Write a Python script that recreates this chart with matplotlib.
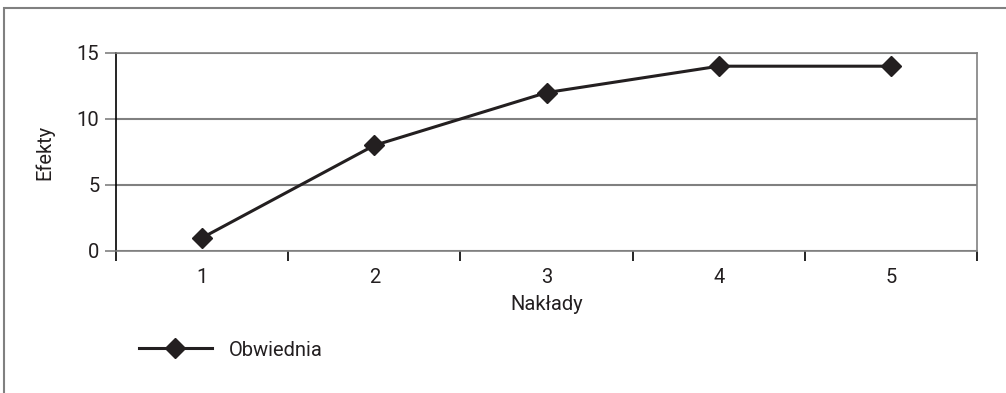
import matplotlib
matplotlib.use("Agg")
import matplotlib.pyplot as plt
from matplotlib.patches import Rectangle
import numpy as np

# Data
categories = ["1", "2", "3", "4", "5"]
values = [1, 8, 12, 14, 14]
series_name = "Obwiednia"
y_ticks = [0, 5, 10, 15]
x_label = "Nakłady"
y_label = "Efekty"

plt.rcParams["font.family"] = ["Roboto", "DejaVu Sans"]
ink = "#231f20"
grid_gray = "#808080"
fs = 14.5

fig = plt.figure(figsize=(10.06, 3.93), dpi=100)
ax = fig.add_axes([116 / 1006, 1 - 251 / 393, (977 - 116) / 1006, (251 - 53) / 393])

x = np.arange(1, len(categories) + 1)
line, = ax.plot(x, values, color=ink, lw=2.2, marker="D", ms=10.5,
                mfc=ink, mec=ink, zorder=5, clip_on=False, label=series_name)

ax.set_xlim(0.5, len(categories) + 0.5)
ax.set_ylim(0, 15)

# Gridlines
ax.set_yticks(y_ticks)
ax.yaxis.grid(True, color=grid_gray, lw=1.5)
ax.set_axisbelow(True)

# Spines
for s in ["top", "right", "bottom"]:
    ax.spines[s].set_color(grid_gray)
    ax.spines[s].set_linewidth(1.2)
ax.spines["left"].set_color("black")
ax.spines["left"].set_linewidth(1.2)

# Y ticks
ax.tick_params(axis="y", direction="out", length=8, width=1.2, color=grid_gray,
               pad=4, labelsize=fs, labelcolor=ink)

# X ticks at category boundaries, labels at centres
ax.set_xticks(np.arange(0.5, len(categories) + 1, 1.0))
ax.set_xticklabels([])
ax.tick_params(axis="x", which="major", direction="out", length=7.5, width=1.2,
               color="black")
ax.set_xticks(x, minor=True)
ax.set_xticklabels(categories, minor=True)
ax.tick_params(axis="x", which="minor", length=0, pad=12, labelsize=fs,
               labelcolor=ink)

ax.set_xlabel(x_label, fontsize=fs, color=ink, labelpad=6)
ax.set_ylabel(y_label, fontsize=fs, color=ink, labelpad=16)

# Legend
leg = fig.legend(handles=[line], loc="center left",
                 bbox_to_anchor=(121 / 1006, 1 - 350 / 393),
                 frameon=False, fontsize=fs, handlelength=3.6,
                 handletextpad=0.85, labelcolor=ink)

# Outer chart border
fig.patches.append(Rectangle((4 / 1006, -0.05), 1.1, 1 - 8 / 393 + 0.05,
                             transform=fig.transFigure, fill=False,
                             ec=grid_gray, lw=1.5))

fig.savefig("out.png", dpi=100)
